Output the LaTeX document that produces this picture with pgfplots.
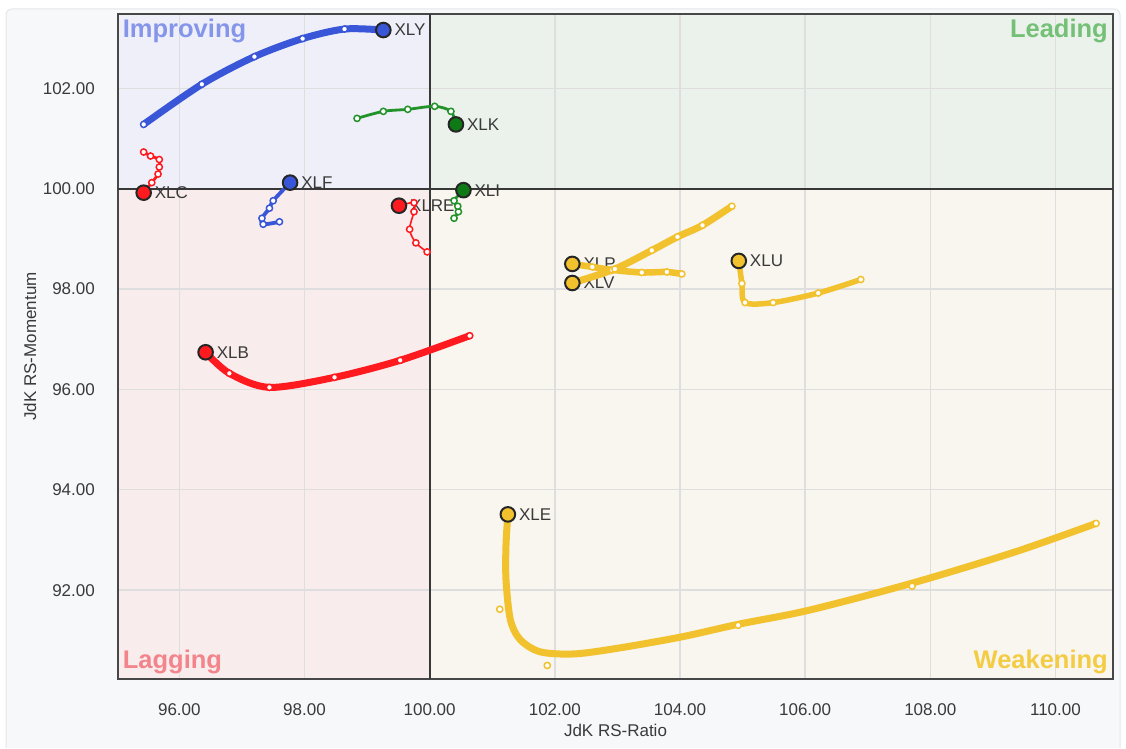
\documentclass[border=0pt]{standalone}
\usepackage{pgfplots}
\pgfplotsset{compat=1.18}
\usepackage{fontspec}
\setmainfont{Liberation Sans}
\definecolor{cblue}{HTML}{3A56D8}
\definecolor{cgreen}{HTML}{22922A}
\definecolor{cgreenH}{HTML}{0E7A16}
\definecolor{cred}{HTML}{FF1A1F}
\definecolor{cyel}{HTML}{F2C12E}
\definecolor{qImp}{HTML}{EEEFF9}
\definecolor{qLead}{HTML}{EBF2EB}
\definecolor{qLag}{HTML}{F8ECEC}
\definecolor{qWeak}{HTML}{F8F6EE}
\definecolor{tImp}{HTML}{8596EA}
\definecolor{tLead}{HTML}{74C076}
\definecolor{tLag}{HTML}{F4848C}
\definecolor{tWeak}{HTML}{F4CC44}
\definecolor{gridc}{HTML}{DEDEDE}
\definecolor{cardbg}{HTML}{F7F8FA}
\definecolor{cardbd}{HTML}{E4E6EA}
\definecolor{txt}{HTML}{3A3A3A}
\pgfplotsset{
  trail/.style={smooth, mark=*, mark size=3.1pt, mark options={fill=white, draw=#1, line width=1.5pt, solid}},
  head/.style={only marks, mark=*, mark size=7.3pt, mark options={fill=#1, draw=black!85, line width=2pt}},
}
\begin{document}
\begin{tikzpicture}
\fill[white] (0pt,0pt) rectangle (1126pt,748pt);
\fill[cardbg] (6pt,0pt) [rounded corners=6pt] -- (6pt,739pt) -- (1120pt,739pt) [sharp corners] -- (1120pt,0pt) -- cycle;
\draw[cardbd, line width=1pt] (6pt,0pt) [rounded corners=6pt] -- (6pt,739pt) -- (1120pt,739pt) [sharp corners] -- (1120pt,0pt);
% quadrant backgrounds (axis spans 118..1113 x 69..734; x=100 at 429.64, y=100 at 559.35)
\fill[qImp]  (118pt,559.35pt) rectangle (429.64pt,734pt);
\fill[qLead] (429.64pt,559.35pt) rectangle (1113pt,734pt);
\fill[qLag]  (118pt,69pt) rectangle (429.64pt,559.35pt);
\fill[qWeak] (429.64pt,69pt) rectangle (1113pt,559.35pt);
\begin{axis}[
  at={(118pt,69pt)}, anchor=south west,
  scale only axis, width=995pt, height=665pt,
  xmin=95.02, xmax=110.92, ymin=90.23, ymax=103.48,
  xtick={96,98,...,110}, ytick={92,94,...,102},
  grid=major, major grid style={draw=gridc, line width=1.4pt},
  major tick length=0pt,
  axis line style={draw=black!72, line width=1.8pt},
  clip=false,
  /pgf/number format/.cd, fixed, fixed zerofill, precision=2, assume math mode=true,
  /pgfplots/.cd,
  tick label style={font=\fontsize{17}{20}\selectfont, text=txt},
  xticklabel style={anchor=center, yshift=-31pt},
  yticklabel style={anchor=east, inner sep=0pt, xshift=-23pt},
  xlabel={JdK RS-Ratio}, ylabel={JdK RS-Momentum},
  label style={font=\fontsize{17}{20}\selectfont, text=txt},
  xlabel style={at={(axis description cs:0.5,-0.078)}, anchor=center},
  ylabel style={at={(axis description cs:-0.0884,0.5)}, anchor=center},
]
\draw[black!78, line width=2pt] (axis cs:100,90.23) -- (axis cs:100,103.48);
\draw[black!78, line width=2pt] (axis cs:95.02,100) -- (axis cs:110.92,100);

\node[font=\fontsize{25.5}{28}\selectfont\bfseries, text=tImp, anchor=base west, inner sep=0pt] at ([xshift=4.7pt,yshift=-24pt]rel axis cs:0,1) {Improving};
\node[font=\fontsize{25.5}{28}\selectfont\bfseries, text=tLead, anchor=base east, inner sep=0pt] at ([xshift=-5pt,yshift=-23.5pt]rel axis cs:1,1) {Leading};
\node[font=\fontsize{25.5}{28}\selectfont\bfseries, text=tLag, anchor=base west, inner sep=0pt] at ([xshift=4.7pt,yshift=10pt]rel axis cs:0,0) {Lagging};
\node[font=\fontsize{25.5}{28}\selectfont\bfseries, text=tWeak, anchor=base east, inner sep=0pt] at ([xshift=-5pt,yshift=10pt]rel axis cs:1,0) {Weakening};

\begin{scope}[every node/.style={font=\fontsize{17}{20}\selectfont, text=txt, anchor=west, inner sep=0pt, xshift=11pt}]
\node at (axis cs:99.26,103.16) {XLY};
\node at (axis cs:100.42,101.28) {XLK};
\node at (axis cs:95.43,99.92) {XLC};
\node at (axis cs:97.77,100.12) {XLF};
\node at (axis cs:99.51,99.66) {XLRE};
\node at (axis cs:100.54,99.97) {XLI};
\node at (axis cs:96.42,96.74) {XLB};
\node at (axis cs:102.28,98.50) {XLP};
\node at (axis cs:102.28,98.12) {XLV};
\node at (axis cs:104.94,98.56) {XLU};
\node at (axis cs:101.25,93.51) {XLE};
\end{scope}

% XLE line (curve) and points
\addplot[cyel, line width=7pt, smooth] coordinates {
(110.65,93.33) (109.35,92.76) (107.71,92.14) (106.06,91.60) (104.93,91.32)
(104.03,91.07) (103.04,90.85) (102.32,90.73) (101.77,90.77) (101.45,91.01)
(101.29,91.41) (101.22,92.21) (101.22,92.90) (101.25,93.51)};
\addplot[only marks, mark=*, mark size=3.1pt, mark options={fill=white, draw=cyel, line width=1.5pt}] coordinates {
(110.65,93.33) (107.71,92.08) (104.93,91.30) (101.88,90.50) (101.12,91.62)};

% XLU
\addplot[cyel, line width=5.5pt, trail=cyel] coordinates {
(106.89,98.19) (106.21,97.92) (105.49,97.73) (105.04,97.73) (104.99,98.11) (104.94,98.56)};
% XLP
\addplot[cyel, line width=6.5pt, trail=cyel] coordinates {
(104.03,98.30) (103.79,98.34) (103.39,98.33) (102.92,98.38) (102.60,98.44) (102.28,98.50)};
% XLV
\addplot[cyel, line width=7pt, trail=cyel] coordinates {
(104.83,99.65) (104.36,99.27) (103.96,99.04) (103.55,98.77) (102.96,98.40) (102.28,98.12)};
% XLB
\addplot[cred, line width=7pt, trail=cred] coordinates {
(100.64,97.07) (99.53,96.58) (98.48,96.24) (97.44,96.04) (96.80,96.32) (96.42,96.74)};
% XLRE
\addplot[cred, line width=1.6pt, trail=cred] coordinates {
(99.96,98.74) (99.78,98.92) (99.68,99.19) (99.75,99.54) (99.75,99.72) (99.51,99.66)};
% XLC
\addplot[cred, line width=2.8pt, trail=cred] coordinates {
(95.43,100.73) (95.54,100.65) (95.68,100.58) (95.68,100.43) (95.66,100.29) (95.56,100.12) (95.43,99.92)};
% XLF
\addplot[cblue, line width=3.8pt, trail=cblue] coordinates {
(97.60,99.34) (97.34,99.29) (97.32,99.41) (97.44,99.61) (97.50,99.76) (97.77,100.12)};
% XLY
\addplot[cblue, line width=7pt, trail=cblue] coordinates {
(95.43,101.28) (96.36,102.08) (97.20,102.63) (97.97,102.99) (98.64,103.18) (99.26,103.16)};
% XLK
\addplot[cgreen, line width=2.8pt, trail=cgreen] coordinates {
(98.84,101.40) (99.26,101.54) (99.65,101.58) (100.08,101.64) (100.34,101.54) (100.42,101.28)};
% XLI
\addplot[cgreen, line width=2.8pt, trail=cgreen] coordinates {
(100.39,99.41) (100.46,99.54) (100.45,99.65) (100.39,99.76) (100.54,99.97)};

% heads
\addplot[head=cyel] coordinates {(101.25,93.51) (104.94,98.56) (102.28,98.50) (102.28,98.12)};
\addplot[head=cred] coordinates {(96.42,96.74) (99.51,99.66) (95.43,99.92)};
\addplot[head=cblue] coordinates {(97.77,100.12) (99.26,103.16)};
\addplot[head=cgreenH] coordinates {(100.42,101.28) (100.54,99.97)};
\end{axis}
\end{tikzpicture}
\end{document}
